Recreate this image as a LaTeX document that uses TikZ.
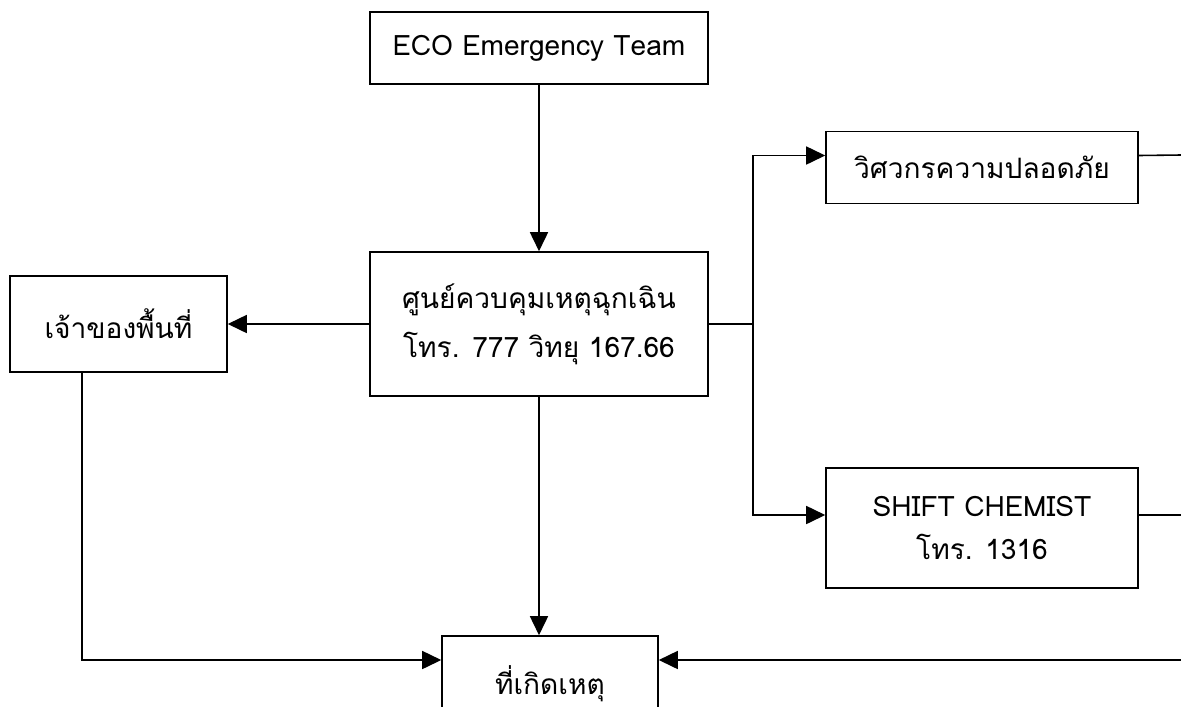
\documentclass[tikz,border=0pt]{standalone}
\usepackage{fontspec}
\setmainfont[Script=Thai]{Loma}
\usetikzlibrary{arrows.meta, calc}
\tikzset{
    %Define standard arrow tip
    >={Triangle[length=0.38cm, width=0.36cm]},
    %Define style for boxes
    bloc/.style={
           rectangle,
           draw=black, line width=0.9pt,
           inner sep=0pt,
           align=center,
           font=\fontsize{16}{28}\selectfont},
    % Define arrow style
    lien/.style={
           ->,
           line width=0.9pt},
    trait/.style={
           -,
           line width=0.9pt}
}

\begin{document}
\begin{tikzpicture}[x=0.02cm, y=-0.02cm]
	\useasboundingbox (0,0) rectangle (1181,707);
	%
	% noeuds
	%
	\node[bloc, minimum width=6.76cm, minimum height=1.44cm] (eco) at (539,48) {ECO Emergency Team};
	\node[bloc, minimum width=6.76cm, minimum height=2.88cm] (centre) at (539,324) {ศูนย์ควบคุมเหตุฉุกเฉิน\\โทร. 777 วิทยุ 167.66};
	\node[bloc, minimum width=4.34cm, minimum height=1.92cm] (proprio) at (118.5,324) {เจ้าของพื้นที่};
	\node[bloc, minimum width=6.24cm, minimum height=1.44cm] (ingenieur) at (982,167.5) {วิศวกรความปลอดภัย};
	\node[bloc, minimum width=6.24cm, minimum height=2.4cm, font=\fontsize{16}{24}\selectfont] (chimiste) at (982,528) {SHIFT CHEMIST\\โทร. 1316};
	\node[bloc, minimum width=4.32cm, minimum height=1.92cm] (lieu) at (550,684) {ที่เกิดเหตุ};
	\coordinate (fourche) at (753,324);
	\coordinate (bordA) at (1181,155);
	\coordinate (bordB) at (1181,515);
	\coordinate (bordC) at (1181,660);
	%
	% Liens
	%
	\draw[lien] (eco) -- (centre);
	\draw[lien] (centre.west) -- (proprio.east);
	\draw[lien] (centre.south) -- (centre.south |- lieu.north);
	\draw[trait] (centre.east) -- (fourche);
	\draw[lien] (fourche) |- ([yshift=0.24cm]ingenieur.west);
	\draw[lien] (fourche) |- ([yshift=0.26cm]chimiste.west);
	\draw[lien] ([xshift=-0.73cm]proprio.south) |- ([yshift=0.48cm]lieu.west);
	\draw[trait] ([yshift=0.24cm]ingenieur.east) -- (bordA);
	\draw[trait] ([yshift=0.26cm]chimiste.east) -- (bordB);
	\draw[lien] (bordC) -- ([yshift=0.48cm]lieu.east);
\end{tikzpicture}
\end{document}
